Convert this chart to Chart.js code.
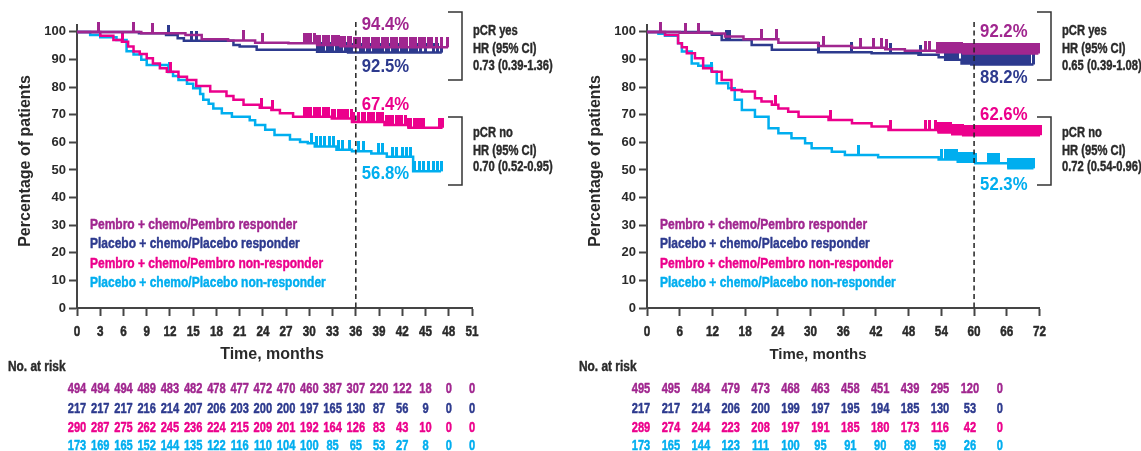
<!DOCTYPE html>
<html><head><meta charset="utf-8">
<script src="https://cdn.jsdelivr.net/npm/chart.js@4.4.1/dist/chart.umd.min.js"></script>
<style>
html,body{margin:0;padding:0;background:#fff;}
#wrap{position:relative;width:1141px;height:451px;overflow:hidden;background:#fff;}
canvas{position:absolute;top:0;}
#c1{left:0;width:570px;height:451px;}
#c2{left:570px;width:571px;height:451px;}
</style></head><body>
<div id="wrap"><canvas id="c1" width="570" height="451"></canvas><canvas id="c2" width="571" height="451"></canvas></div>
<script>
// ---------- DATA ----------
const seriesNames = ['Pembro + chemo/Pembro responder','Placebo + chemo/Placebo responder','Pembro + chemo/Pembro non-responder','Placebo + chemo/Placebo non-responder'];
const yTickValues = [0,10,20,30,40,50,60,70,80,90,100];
const leftXTickValues = [0,3,6,9,12,15,18,21,24,27,30,33,36,39,42,45,48,51];
const rightXTickValues = [0,6,12,18,24,30,36,42,48,54,60,66,72];

// Left panel: [month, % event-free]
const leftPembroResp = [[0,100],[8.3,99.5],[14.0,98.9],[16.1,97.3],[19.5,96.9],[23.0,96.1],[27.3,95.9],[31.0,95.3],[34.0,94.8],[35.8,94.4],[47.9,94.4]];
const leftPlaceboResp = [[0,100],[8.0,99.5],[11.5,98.9],[13.0,97.7],[13.8,96.8],[20.2,95.3],[21.0,94.7],[23.2,93.5],[31.0,92.8],[35.0,92.5],[47.1,92.5]];
const leftPembroNonResp = [[0,100],[3.0,98.6],[4.7,97.1],[5.8,96.4],[6.6,94.7],[7.3,92.9],[8.1,92.0],[9.0,90.5],[9.8,88.6],[10.7,86.8],[11.6,85.6],[13.1,83.8],[14.2,82.6],[15.4,80.4],[17.2,78.4],[19.3,76.8],[20.2,75.4],[21.5,73.6],[23.6,72.5],[25.1,71.7],[26.2,70.5],[27.9,69.3],[32.9,68.6],[35.5,67.4],[39.7,66.3],[42.8,65.3],[47.2,65.3]];
const leftPlaceboNonResp = [[0,100],[1.7,98.9],[3.0,98.1],[5.1,97.1],[6.4,93.0],[7.3,91.8],[8.3,89.9],[9.0,88.0],[11.8,85.5],[12.4,84.0],[13.1,82.6],[14.2,81.2],[15.0,79.6],[15.9,77.5],[16.3,75.4],[17.0,74.0],[17.6,72.3],[18.7,70.5],[20.0,69.3],[22.3,68.0],[23.0,66.3],[24.3,64.6],[25.5,62.7],[27.5,61.0],[28.8,60.1],[29.8,59.7],[30.7,58.5],[33.5,57.3],[35.5,56.8],[38.0,56.0],[40.0,54.8],[43.4,49.5],[47.0,49.5]];

// Left panel censor times (months)
const leftPembroRespCens = [2.8,7.3,9.7,21.5,24.0,29.4,29.8,30.1,30.6,31.0,31.3,31.8,32.2,32.5,33.0,33.4,33.7,34.2,34.6,35.0,35.3,35.8,36.2,36.5,37.0,37.4,37.7,38.2,38.6,38.9,39.4,39.8,40.1,40.6,41.0,41.3,41.8,42.2,42.5,43.0,43.4,43.7,44.2,44.6,44.9,45.4,45.8,46.4,47.0,47.9];
const leftPlaceboRespCens = [11.8,14.8,15.4,31.1,31.5,31.8,32.3,32.7,33.0,33.5,33.9,34.2,34.7,35.1,35.4,36.6,37.0,37.5,37.8,38.3,38.7,39.0,39.5,39.9,40.2,40.7,41.1,41.4,41.9,42.3,42.6,43.1,43.5,43.8,44.3,45.0,46.0,46.6,47.1];
const leftPembroNonRespCens = [5.9,12.1,23.8,25.3,29.4,29.7,30.1,30.6,30.9,31.3,31.8,32.1,32.5,33.0,33.3,33.7,34.2,34.5,34.9,35.4,35.7,36.4,36.8,37.1,37.6,38.0,38.3,38.8,39.2,39.5,40.0,40.4,40.7,41.2,41.6,41.9,42.4,42.8,43.1,43.6,44.0,44.4,44.8,46.8,47.2];
const leftPlaceboNonRespCens = [12.0,30.3,30.9,31.5,32.0,32.6,33.1,33.8,34.3,35.2,36.3,37.0,38.9,39.4,40.7,41.3,42.0,42.5,43.0,43.6,44.2,44.8,45.4,46.0,46.6,47.0];

// Right panel
const rightPembroResp = [[0,100],[6.0,99.7],[11.9,99.4],[14.3,98.3],[17.7,97.3],[24.1,96.1],[31.4,94.9],[37.6,94.3],[43.7,93.7],[47.3,93.2],[53.2,92.6],[58.0,92.2],[71.8,92.2]];
const rightPlaceboResp = [[0,100],[11.9,99.0],[13.7,97.1],[19.2,95.3],[22.9,93.5],[31.4,92.6],[41.2,92.3],[49.8,91.7],[53.5,90.8],[54.7,89.9],[57.7,88.6],[59.5,88.2],[70.9,88.2]];
const rightPembroNonResp = [[0,100],[3.3,98.9],[5.7,95.9],[6.4,94.4],[7.3,92.3],[8.8,90.5],[10.3,86.8],[11.9,85.6],[13.7,82.6],[15.5,79.0],[17.4,78.4],[19.8,76.0],[21.0,74.8],[22.9,73.6],[24.1,72.3],[25.9,71.1],[27.8,69.3],[33.3,68.1],[37.6,66.9],[41.2,65.7],[44.3,64.5],[53.5,63.6],[56.0,62.9],[58.0,62.6],[72.1,62.6]];
const rightPlaceboNonResp = [[0,100],[2.1,99.3],[3.3,98.6],[5.7,95.9],[6.4,92.9],[8.2,88.6],[9.4,87.7],[11.9,85.6],[12.8,81.4],[14.9,79.6],[16.1,75.4],[17.4,71.7],[19.8,69.3],[22.3,65.1],[24.1,63.3],[26.5,61.5],[29.0,59.7],[30.2,57.9],[33.9,56.6],[36.3,55.4],[42.4,54.6],[53.5,53.8],[57.0,53.0],[60.2,52.4],[66.3,50.6],[70.9,50.6]];

const rightPembroRespCens = [2.4,7.0,9.4,21.0,23.8,32.4,39.1,41.5,43.1,44.0,51.0,51.9,53.2,53.6,53.9,54.3,54.7,55.0,55.5,55.8,56.2,56.6,56.9,57.4,57.7,58.1,58.5,58.8,59.3,59.6,60.0,60.4,60.7,61.2,61.5,61.9,62.3,62.6,63.1,63.4,63.8,64.2,64.5,65.0,65.3,65.7,66.1,66.4,66.9,67.2,67.6,68.0,68.3,68.8,69.1,69.5,69.9,70.2,70.7,71.0,71.4,71.8];
const rightPlaceboRespCens = [14.6,15.2,31.4,37.6,44.6,50.1,54.7,55.3,55.9,56.4,57.0,57.8,58.2,58.6,59.1,59.4,59.8,60.3,60.6,61.0,61.5,61.8,62.2,62.7,63.0,63.4,63.9,64.2,64.6,65.1,65.4,65.8,66.3,66.6,67.0,67.5,67.8,68.2,68.7,69.0,69.4,69.9,70.2,70.9];
const rightPembroNonRespCens = [23.5,33.6,44.6,51.0,51.9,52.9,53.5,53.9,54.2,54.6,55.0,55.3,55.7,56.1,56.4,56.8,57.2,57.5,57.9,58.3,58.6,59.0,59.4,59.7,60.1,60.5,60.8,61.2,61.6,61.9,62.3,62.7,63.0,63.4,63.8,64.1,64.5,64.9,65.2,65.6,66.0,66.3,66.7,67.1,67.4,67.8,68.2,68.5,68.9,69.3,69.6,70.0,70.4,70.7,71.0,71.4,71.8,72.1];
const rightPlaceboNonRespCens = [11.9,38.8,54.1,54.7,55.1,55.5,55.9,56.3,56.8,57.1,57.5,57.9,58.4,58.7,59.1,59.6,59.9,60.2,62.6,63.0,63.4,63.9,64.2,64.5,66.3,66.7,67.1,67.6,67.9,68.3,68.8,69.1,69.5,70.0,70.3,70.9];

// Numbers at risk
const leftAtRisk = [
  [494,494,494,489,483,482,478,477,472,470,460,387,307,220,122,18,0,0],
  [217,217,217,216,214,207,206,203,200,200,197,165,130,87,56,9,0,0],
  [290,287,275,262,245,236,224,215,209,201,192,164,126,83,43,10,0,0],
  [173,169,165,152,144,135,122,116,110,104,100,85,65,53,27,8,0,0]
];
const rightAtRisk = [
  [495,495,484,479,473,468,463,458,451,439,295,120,0],
  [217,217,214,206,200,199,197,195,194,185,130,53,0],
  [289,274,244,223,208,197,191,185,180,173,116,42,0],
  [173,165,144,123,111,100,95,91,90,89,59,26,0]
];

const leftLandmark = 36, rightLandmark = 60;
const leftPercents = ['94.4%','92.5%','67.4%','56.8%'];
const rightPercents = ['92.2%','88.2%','62.6%','52.3%'];
const leftHR = [['pCR yes','HR (95% CI)','0.73 (0.39-1.36)'],['pCR no','HR (95% CI)','0.70 (0.52-0.95)']];
const rightHR = [['pCR yes','HR (95% CI)','0.65 (0.39-1.08)'],['pCR no','HR (95% CI)','0.72 (0.54-0.96)']];

// ---------- STYLE ----------
const COLORS = ['#a0268f','#2d3a8e','#ec008c','#00aeef'];
const TXT = '#2a2a2a';
const AXIS = '#454545';
const REG = "'Liberation Sans',Arial,sans-serif";

function survAt(curve, t){ let s = curve[0][1]; for (const p of curve){ if (p[0] <= t) s = p[1]; else break; } return s; }

function tickImg(color){
  const c = document.createElement('canvas'); c.width = 3; c.height = 20;
  const g = c.getContext('2d'); g.fillStyle = color; g.fillRect(0,0,3,10); return c;
}
const tickImgs = COLORS.map(tickImg);

function buildDatasets(curves, censors){
  const ds = [];
  curves.forEach((c,i)=>{
    ds.push({label: seriesNames[i], data: c.map(p=>({x:p[0], y:p[1]})), borderColor: COLORS[i], backgroundColor: COLORS[i],
      borderWidth: 2.5, stepped: true, pointRadius: 0, fill: false, clip: false, order: i, tension: 0});
  });
  censors.forEach((cs,i)=>{
    ds.push({label: '', data: cs.map(t=>({x:t, y: survAt(curves[i], t)})), showLine: false, pointStyle: tickImgs[i],
      pointRadius: 1, borderColor: COLORS[i], backgroundColor: COLORS[i], clip: false, order: i});
  });
  return ds;
}

function txt(ctx, s, x, y, font, color, align, sx, heavy){
  ctx.save(); ctx.font = font; ctx.fillStyle = color; ctx.textBaseline = 'middle'; ctx.textAlign = align || 'left';
  ctx.translate(x, y); ctx.scale(sx || 1, 1); ctx.fillText(s, 0, 0);
  if (heavy){ ctx.strokeStyle = color; ctx.lineWidth = heavy; ctx.lineJoin = 'round'; ctx.strokeText(s, 0, 0); }
  ctx.restore();
}

function annotPlugin(cfg){
  return { id: 'annot', afterDraw(chart){
    const ctx = chart.ctx, xs = chart.scales.x, ys = chart.scales.y;
    // x tick labels (condensed)
    cfg.xTicks.forEach(v => txt(ctx, String(v), xs.getPixelForValue(v), 332, `bold 15px ${REG}`, TXT, 'center', 0.78, 0.5));
    // y-axis title
    ctx.save(); ctx.translate(26, 161); ctx.rotate(-Math.PI/2);
    txt(ctx, 'Percentage of patients', 0, 0, `bold 16px ${REG}`, TXT, 'center');
    ctx.restore();
    // x-axis title
    txt(ctx, 'Time, months', cfg.xTitleX, 355, `bold ${cfg.xTitleSize}px ${REG}`, TXT, 'center');
    // legend
    const legY = [225, 244, 264, 283];
    seriesNames.forEach((n,i)=> txt(ctx, n, 90, legY[i], `bold 15px ${REG}`, COLORS[i], 'left', 0.80, 0.45));
    // landmark dashed line
    const lx = xs.getPixelForValue(cfg.landmark);
    ctx.save(); ctx.strokeStyle = '#222'; ctx.lineWidth = 1.5; ctx.setLineDash([5,3.5]);
    ctx.beginPath(); ctx.moveTo(lx, 22); ctx.lineTo(lx, ys.getPixelForValue(0)); ctx.stroke(); ctx.restore();
    // percentages
    cfg.pctY.forEach((py,i)=> txt(ctx, cfg.percents[i], lx + 6, py, `bold 19px ${REG}`, COLORS[i], 'left', 0.88));
    // brackets
    ctx.save(); ctx.strokeStyle = '#333'; ctx.lineWidth = 1.5;
    [[12,80],[117,185]].forEach(b=>{
      ctx.beginPath(); ctx.moveTo(cfg.brX - 14, b[0]); ctx.lineTo(cfg.brX, b[0]); ctx.lineTo(cfg.brX, b[1]); ctx.lineTo(cfg.brX - 14, b[1]); ctx.stroke();
    });
    ctx.restore();
    const hrY = [[31,49,66],[133,151,167]];
    cfg.hr.forEach((grp,g)=> grp.forEach((s,k)=> txt(ctx, s, cfg.brX + 11, hrY[g][k], `bold 14px ${REG}`, TXT, 'left', 0.80, 0.4)));
    // numbers at risk
    txt(ctx, 'No. at risk', cfg.noRiskX, 367, `bold 14px ${REG}`, TXT, 'left', 0.85, 0.4);
    const rowY = [389, 408.5, 427.5, 446];
    cfg.risk.forEach((row,r)=> row.forEach((v,i)=>{
      const x = cfg.riskX(xs, i);
      txt(ctx, String(v), x, rowY[r], `bold 15px ${REG}`, COLORS[r], 'center', 0.74, 0.45);
    }));
  }};
}

function makeChart(canvas, curves, censors, cfg){
  const axisCommon = {
    grid: { drawOnChartArea: false, drawTicks: true, tickLength: 8, tickColor: AXIS, tickWidth: 2, color: AXIS },
    border: { display: true, color: AXIS, width: 2 }
  };
  return new Chart(canvas, {
    type: 'line',
    data: { datasets: buildDatasets(curves, censors) },
    options: {
      responsive: false, animation: false, events: [],
      layout: { padding: { left: 0, right: cfg.padRight, top: 25, bottom: 0 } },
      plugins: { legend: { display: false }, tooltip: { enabled: false } },
      scales: {
        x: Object.assign({ type: 'linear', min: 0, max: cfg.xMax,
          afterBuildTicks: s => { s.ticks = cfg.xTicks.map(v=>({value: v})); },
          afterFit: s => { s.height = 143; },
          ticks: { display: false, autoSkip: false }
        }, axisCommon),
        y: Object.assign({ type: 'linear', min: 0, max: 102.5,
          afterBuildTicks: s => { s.ticks = yTickValues.map(v=>({value: v})); },
          afterFit: s => { s.width = 77; },
          ticks: { font: { family: REG, size: 13, weight: 'bold' }, color: TXT, padding: 3 }
        }, axisCommon)
      }
    },
    plugins: [annotPlugin(cfg)]
  });
}

makeChart(document.getElementById('c1'),
  [leftPembroResp, leftPlaceboResp, leftPembroNonResp, leftPlaceboNonResp],
  [leftPembroRespCens, leftPlaceboRespCens, leftPembroNonRespCens, leftPlaceboNonRespCens],
  { xMax: 51, xTicks: leftXTickValues, padRight: 98, landmark: leftLandmark, percents: leftPercents,
    pctY: [25, 67, 105, 174], brX: 462, hr: leftHR, risk: leftAtRisk, xTitleX: 272, xTitleSize: 16, noRiskX: 8,
    riskX: (xs, i) => xs.getPixelForValue(leftXTickValues[i]) });

makeChart(document.getElementById('c2'),
  [rightPembroResp, rightPlaceboResp, rightPembroNonResp, rightPlaceboNonResp],
  [rightPembroRespCens, rightPlaceboRespCens, rightPembroNonRespCens, rightPlaceboNonRespCens],
  { xMax: 72, xTicks: rightXTickValues, padRight: 101.5, landmark: rightLandmark, percents: rightPercents,
    pctY: [32, 78, 115, 185], brX: 481, hr: rightHR, risk: rightAtRisk, xTitleX: 248, xTitleSize: 15, noRiskX: 9,
    riskX: (xs, i) => xs.getPixelForValue(0) - 6 + i * 29.9 });
</script>
</body></html>
